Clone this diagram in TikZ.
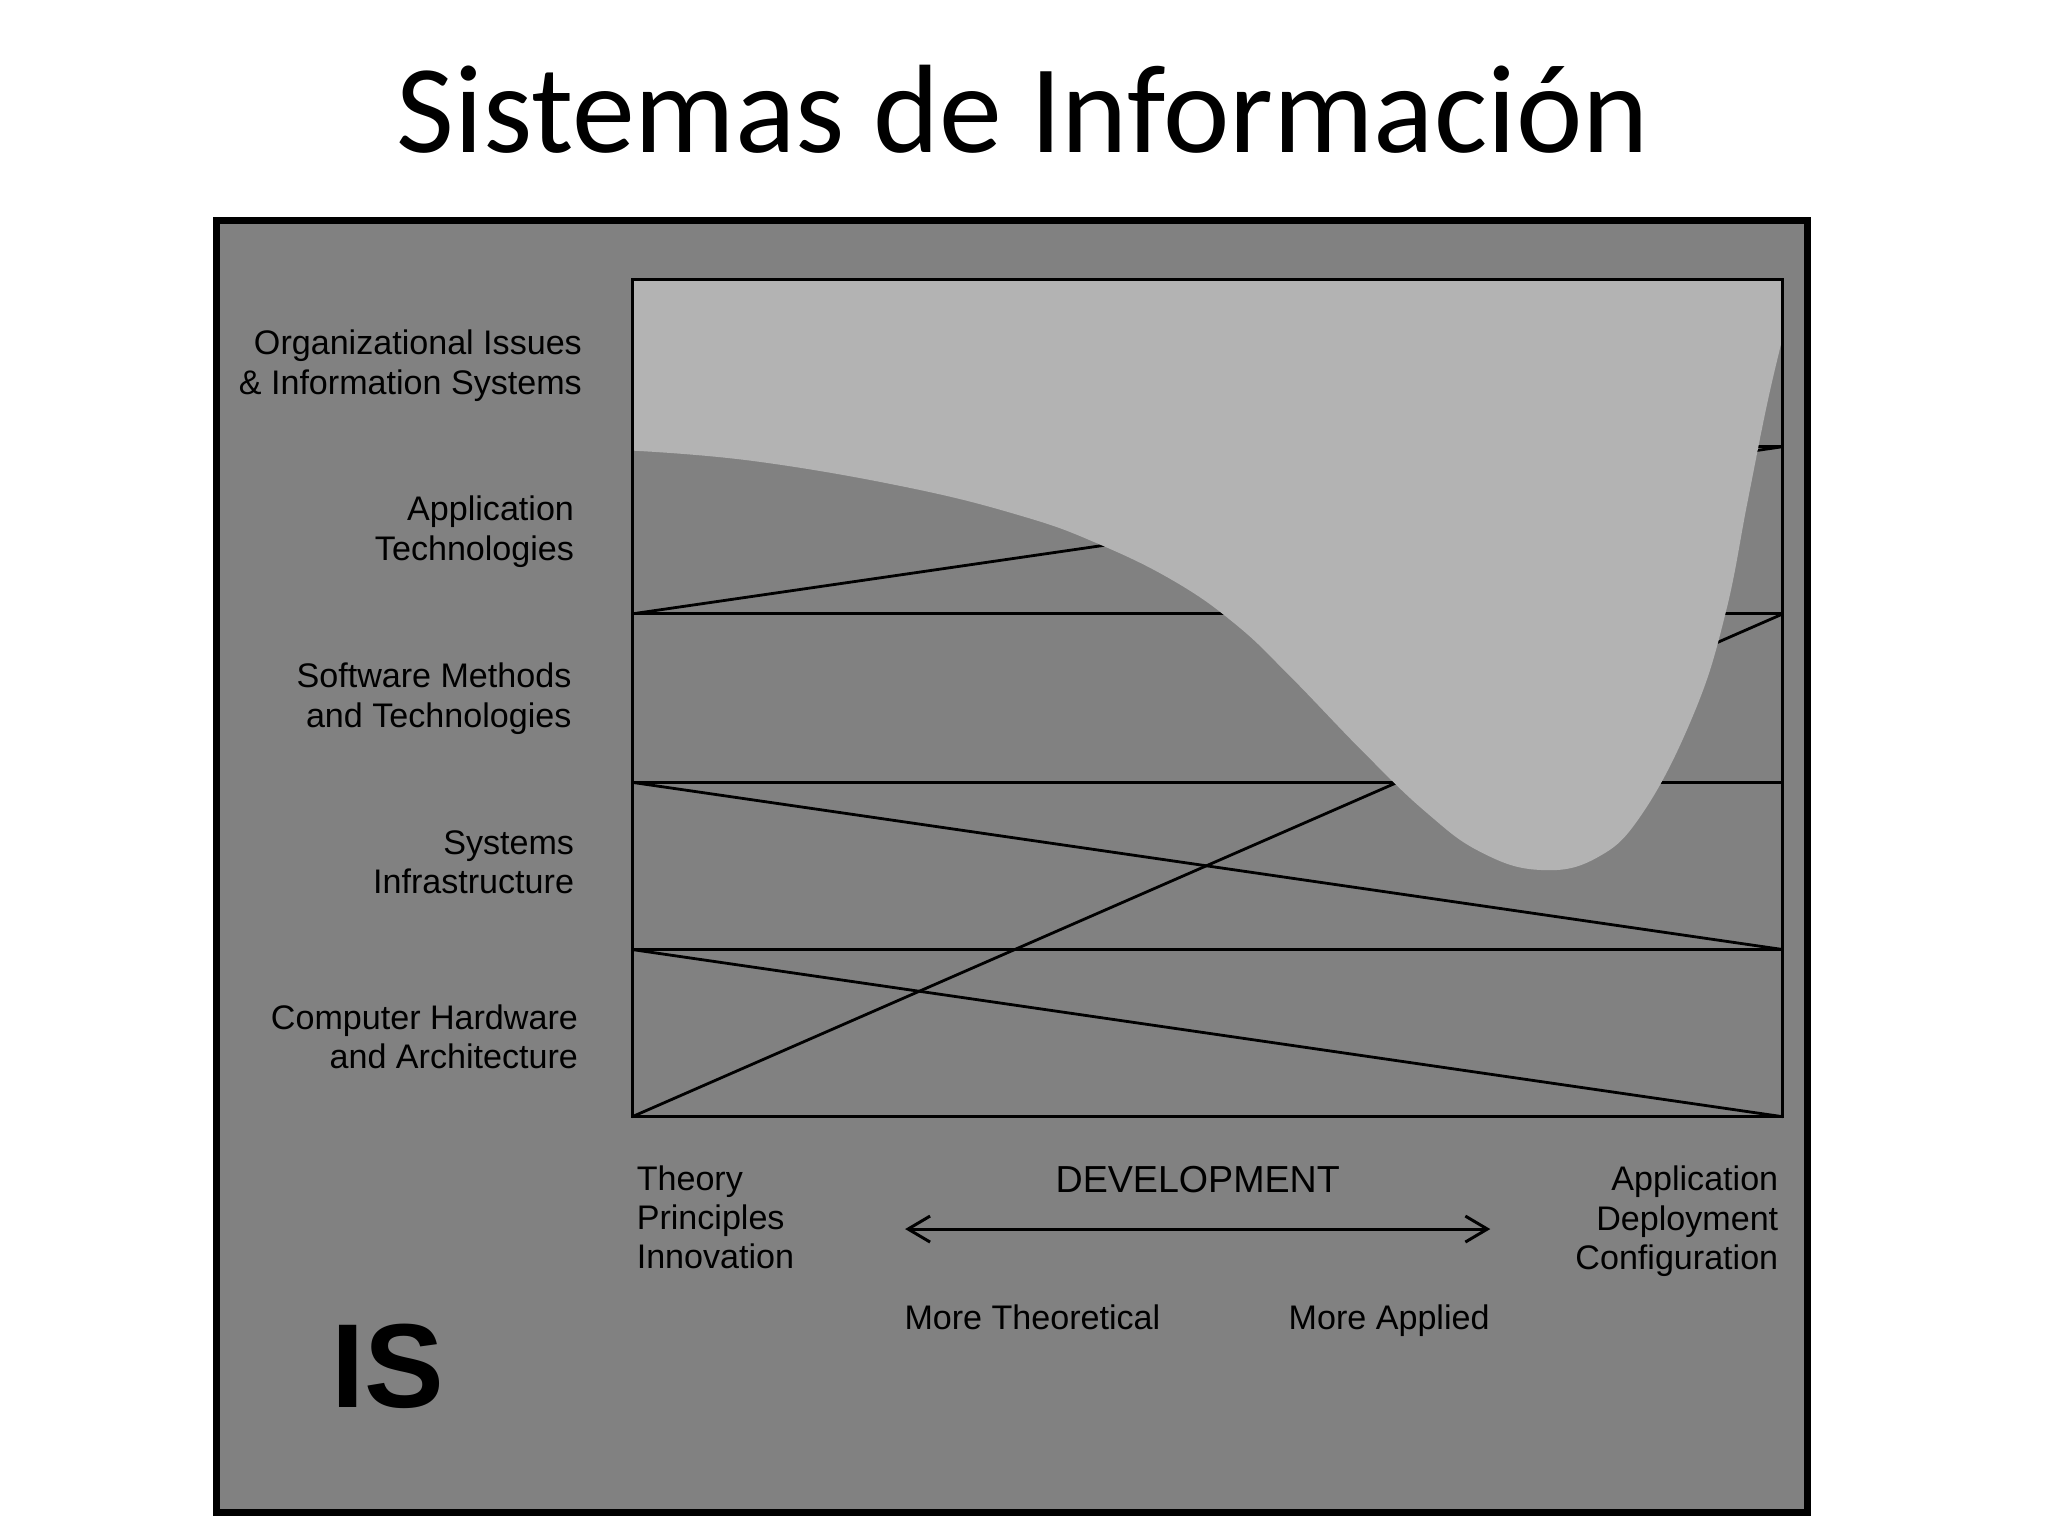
\documentclass[tikz,border=0pt]{standalone}
\usepackage{fontspec}
\setmainfont{Liberation Sans}
\newfontfamily\titlefont{Carlito}
\usetikzlibrary{arrows.meta, calc, positioning}
\definecolor{boxGray}{RGB}{129,129,129}
\definecolor{areaGray}{RGB}{179,179,179}
\tikzset{
    rowLabel/.style={anchor=east, align=right, inner sep=0pt, font=\fontsize{9.7}{11.2}\selectfont},
    axisLabel/.style={inner sep=0pt, font=\fontsize{9.7}{11.2}\selectfont},
    gridLine/.style={black, line width=0.8pt},
    devArrow/.style={{Straight Barb[length=2.2mm,width=2.6mm]}-{Straight Barb[length=2.2mm,width=2.6mm]}, line width=0.85pt},
}
\newcommand{\drawBand}[2]{
    \draw[gridLine] (#1) -- (#2);
}
\begin{document}
\begin{tikzpicture}[x=0.013061cm, y=-0.013061cm]
        \useasboundingbox (0,0) rectangle (1568,1176);
        \fill[white] (0,0) rectangle (1568,1176);

        \node[anchor=base, inner sep=0pt, font=\titlefont\fontsize{35.8}{40}\selectfont] (title) at (783,117) {Sistemas de Información};

        \filldraw[fill=boxGray, draw=black, line width=2pt] (166,169) rectangle (1384,1158);

        \foreach \i/\y in {0/214, 1/342, 2/470, 3/599, 4/727, 5/855} {
            \coordinate (L\i) at (484,\y);
            \coordinate (R\i) at (1365,\y);
        }

        \drawBand{L1}{R1}
        \drawBand{L2}{R2}
        \drawBand{L3}{R3}
        \drawBand{L4}{R4}
        \drawBand{L1}{R0}
        \drawBand{L2}{R1}
        \drawBand{L5}{R2}
        \drawBand{L3}{R4}
        \drawBand{L4}{R5}

        % focus area of IS
        \fill[areaGray] (L0) -- (484,345) -- plot[smooth, tension=0.7] coordinates {(484,345) (577,353) (694,373) (782,395) (840,416) (899,445) (946,478) (987,517) (1045,577) (1092,622) (1133,652) (1178,666) (1222,657) (1258,622) (1297,546) (1321,470) (1338,384) (1353,309) (1365,258)} -- (R0) -- cycle;

        \draw[gridLine] (L0) rectangle (R5);

        \node[rowLabel] (orgLabel) at (446,280) {Organizational Issues\\\& Information Systems};
        \node[rowLabel] (appTechLabel) at (440,407) {Application\\Technologies};
        \node[rowLabel] (softLabel) at (438,535) {Software Methods\\and Technologies};
        \node[rowLabel] (infraLabel) at (440,660) {Systems\\Infrastructure};
        \node[rowLabel] (hwLabel) at (443,794) {Computer Hardware\\and Architecture};

        \node[axisLabel, anchor=west, align=left] (theoryLabel) at (487,932) {Theory\\Principles\\Innovation};
        \node[axisLabel, anchor=east, align=right] (deployLabel) at (1362,935) {Application\\Deployment\\Configuration};
        \node[axisLabel, font=\fontsize{10.7}{12}\selectfont] (devLabel) at (917,903) {DEVELOPMENT};

        \coordinate (devL) at (693,941);
        \coordinate (devR) at (1141,941);
        \draw[devArrow] (devL) -- (devR);

        \node[axisLabel, anchor=base west] (theoLabel) at (692,1018) {More Theoretical};
        \node[axisLabel, anchor=base east] (appliedLabel) at (1141,1018) {More Applied};

        \node[anchor=base west, inner sep=0pt, font=\bfseries\fontsize{34}{40}\selectfont] (isLabel) at (253,1078) {IS};

    \end{tikzpicture}
\end{document}
